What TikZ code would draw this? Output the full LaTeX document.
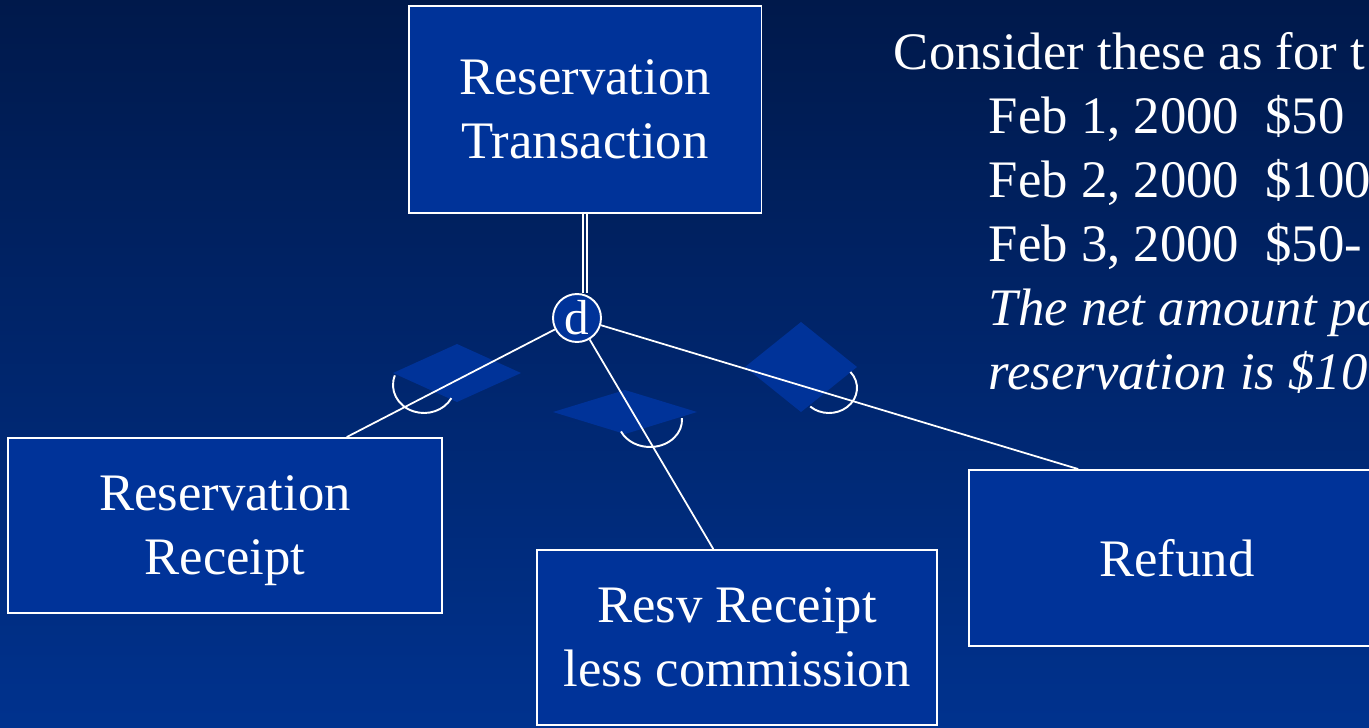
\documentclass[tikz,border=0pt]{standalone}
\usepackage{fontspec}
\setmainfont{Liberation Serif}
\usepackage{tikz}
\usetikzlibrary{arrows,shapes,calc}
\definecolor{bgtop}{RGB}{0,25,75}
\definecolor{bgbot}{RGB}{0,50,142}
\definecolor{bgmid}{RGB}{0,33,97}
\definecolor{boxblue}{RGB}{0,51,153}
\newcommand{\slidefont}{\fontsize{30}{36.4}\selectfont}
\tikzstyle{entity}=[draw=white,fill=boxblue,text=white,line width=1.1pt,
                align=center,inner sep=0pt,font=\slidefont]
\tikzstyle{disjoint}=[circle,draw=white,fill=boxblue,text=white,line width=1.1pt,
                minimum size=0.96cm,inner sep=0pt,font=\fontsize{28}{28}\selectfont]
\tikzstyle{subset}=[draw=white,line width=1.1pt]
\tikzstyle{ghost}=[fill=boxblue]

\begin{document}
\begin{tikzpicture}[line width=1pt,x=0.02cm,y=-0.02cm]
\useasboundingbox (0,0) rectangle (1369,727);
\clip (0,0) rectangle (1369,727);
\shade[top color=bgtop,bottom color=bgbot] (0,0) rectangle (1369,727);
% faded diamonds
\foreach \cx/\cy/\w/\h in {457/373/64/29,625/412/72/22,801/367/56/45}
\fill[ghost] (\cx-\w,\cy) -- (\cx,\cy-\h) -- (\cx+\w,\cy) -- (\cx,\cy+\h) -- cycle;
% entities
\node (rt) at (585,109.5)[entity,minimum width=7.06cm,minimum height=4.14cm]{Reservation\\Transaction};
\node (rr) at (225,525.5)[entity,minimum width=8.68cm,minimum height=3.5cm]{Reservation\\\smash{Receipt}};
\node (rl) at (737,637.5)[entity,minimum width=8cm,minimum height=3.5cm]{Resv Receipt\\less commission};
\node (rf) at (1177,558)[entity,minimum width=8.32cm,minimum height=3.52cm]{Refund};
\node (d) at (577,318)[disjoint]{d};
% links
\draw[white,double=bgmid,double distance=1.3pt,line width=0.95pt] (rt.south) -- (rt.south |- d.north);
\foreach \e in {rr.36,rl.105,rf.138}
\draw[white] (d) -- (\e);
% subset marks
\foreach \cx/\cy/\a/\b/\rx/\ry in {424/385/200/28/31/28,650/420/-4/155/32/27,829/388/-40/132/28/25}
\draw[subset] ({\cx+\rx*cos(\a)},{\cy+\ry*sin(\a)})
  arc[start angle=\a,end angle=\b,x radius=\rx,y radius=\ry];
% note
\node (note) at (893,32)[anchor=north west,text=white,font=\slidefont,align=left,inner sep=0pt]{Consider these as for t\\
\hspace*{1.9cm}Feb 1, 2000\ \ \$50\\
\hspace*{1.9cm}Feb 2, 2000\ \ \$100\\
\hspace*{1.9cm}Feb 3, 2000\ \ \$50-\\
\hspace*{1.9cm}\textit{The net amount pa}\\
\hspace*{1.9cm}\textit{reservation is \$10}};
\end{tikzpicture}
\end{document}
